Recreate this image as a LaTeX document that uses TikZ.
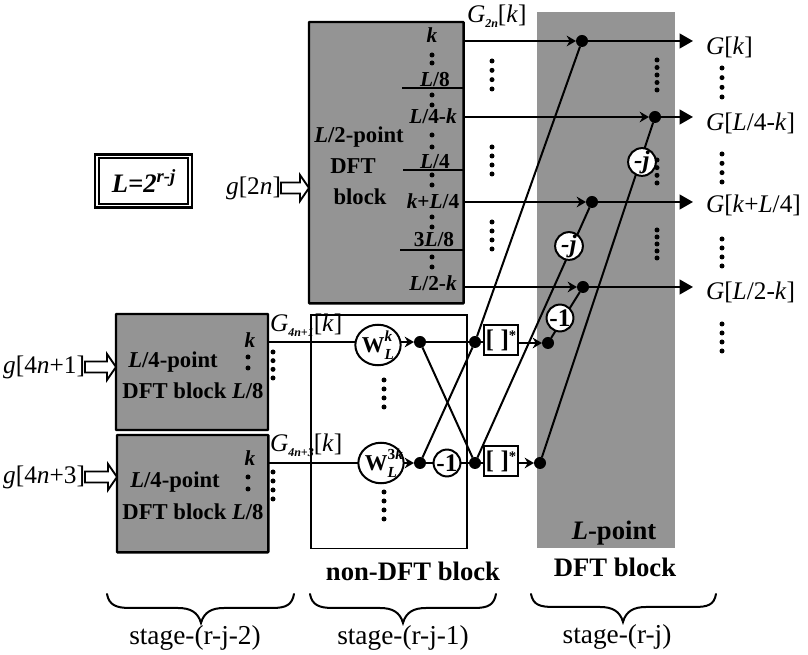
\documentclass[tikz,border=0pt]{standalone}
\usepackage{fontspec}
\setmainfont{Liberation Serif}
\usetikzlibrary{arrows.meta,shapes.geometric}
\newcommand\fs[1]{\fontsize{#1}{#1}\selectfont}
\newcommand\bi[1]{\textbf{\textit{#1}}}
\newcommand\gsub[1]{\raisebox{-3.5pt}{\fs{9}\bi{#1}}}
\newcommand\dotcol[4]{\foreach \i in {0,...,#4}{\fill[black] ({#1},{#2+(#3-#2)*\i/#4}) circle[radius=2.5];}}
\newcommand\hollow[3]{\draw[line width=1.4pt,fill=white,line join=miter] (#1,#3-5.5) -- (#2-9,#3-5.5) -- (#2-9,#3-13) -- (#2,#3) -- (#2-9,#3+13) -- (#2-9,#3+5.5) -- (#1,#3+5.5) -- cycle;}
\tikzset{
  x=0.75pt,y=-0.75pt,
  gblock/.style={draw=black,line width=1.8pt,fill=gray!84!white,rounded corners=0.5pt,inner sep=0pt,outer sep=0pt},
  wire/.style={line width=1.5pt,draw=black},
  wirein/.style={wire,-{Stealth[length=7pt,width=8pt]}},
  wireout/.style={wire,-{Triangle[length=10pt,width=11pt]}},
  joint/.style={circle,fill=black,minimum size=9pt,inner sep=0pt,outer sep=0pt},
  opcirc/.style={circle,draw=black,line width=1.5pt,fill=white,minimum size=19.5pt,inner sep=0pt,outer sep=0pt,font=\fs{19}\bfseries},
  twid/.style={ellipse,draw=black,line width=1.5pt,fill=white,minimum width=33pt,minimum height=29pt,inner sep=0pt,outer sep=0pt,font=\fs{17}\bfseries},
  conj/.style={rectangle,draw=black,line width=1.4pt,fill=white,minimum width=25pt,minimum height=23pt,inner sep=0pt,outer sep=0pt,font=\fs{19}\bfseries},
  lab/.style={inner sep=0pt,outer sep=0pt,font=\fs{19}},
  blk/.style={inner sep=0pt,outer sep=0pt,font=\fs{17}\bfseries},
  port/.style={inner sep=0pt,outer sep=0pt,font=\fs{16}\bfseries},
  head/.style={inner sep=0pt,outer sep=0pt,font=\fs{20}\bfseries},
  stagel/.style={inner sep=0pt,outer sep=0pt,font=\fs{20.5}},
  bracel/.style={line width=1.5pt,draw=black,line cap=round},
}
\begin{document}
\begin{tikzpicture}
\useasboundingbox (0,0) rectangle (808,655);
% shaded regions
\node[fill=gray!84!white,inner sep=0pt,outer sep=0pt,minimum width=103.5pt,minimum height=402pt,anchor=north west] (strip) at (537,12) {};
\node[gblock,minimum width=116pt,minimum height=211pt,anchor=north west] (big) at (309,22) {};
\node[gblock,minimum width=114pt,minimum height=87pt,anchor=north west] (s1) at (116,314) {};
\node[gblock,minimum width=113.5pt,minimum height=88pt,anchor=north west] (s2) at (117,435) {};
\node[draw=black,line width=1pt,minimum width=117pt,minimum height=175pt,inner sep=0pt,outer sep=0pt,anchor=north west] (nd) at (311,315) {};
% L box
\node[draw=black,line width=1.6pt,double,double distance=1.2pt,minimum width=70pt,minimum height=37pt,inner sep=0pt,outer sep=0pt,font=\fs{20}\bfseries\itshape] (lbox) at (143.5,181) {L=2\raisebox{7pt}{\fs{14}r-j}};
% input labels and arrows
\node[lab,anchor=east] (g2n) at (281,188) {\textit{g}[2\textit{n}]};
\node[lab,anchor=east] (g1) at (85,367) {\textit{g}[4\textit{n}+1]};
\node[lab,anchor=east] (g3) at (85,477) {\textit{g}[4\textit{n}+3]};
\hollow{281}{309}{188}
\hollow{85}{116}{367}
\hollow{85}{117}{477}
% block text
\node[blk] (t1) at (359,137) {\textit{L}/2-point};
\node[blk] (t2) at (353,166) {DFT};
\node[blk] (t3) at (360,197) {block};
\node[blk] (t4) at (173,362) {\textit{L}/4-point};
\node[blk] (t5) at (193,391) {DFT block \textit{L}/8};
\node[blk] (t6) at (175,482) {\textit{L}/4-point};
\node[blk] (t7) at (193,512) {DFT block \textit{L}/8};
\node[port] (pa) at (250,340) {\textit{k}};
\node[port] (pb) at (250,458) {\textit{k}};
\node[port] (b1) at (432,35) {\textit{k}};
\node[port] (b2) at (435,80) {\textit{L}/8};
\node[port] (b3) at (433,116) {\textit{L}/4-\textit{k}};
\node[port] (b4) at (435,162) {\textit{L}/4};
\node[port] (b5) at (433,201) {\textit{k}+\textit{L}/4};
\node[port] (b6) at (434,240) {3\textit{L}/8};
\node[port] (b7) at (433,283) {\textit{L}/2-\textit{k}};
% underlines in big block
\coordinate (u1a) at (402,88); \coordinate (u1b) at (big.east |- u1a);
\coordinate (u2a) at (403,170); \coordinate (u2b) at (big.east |- u2a);
\coordinate (u3a) at (400,250); \coordinate (u3b) at (big.east |- u3a);
\draw[wire] (u1a) -- (u1b);
\draw[wire] (u2a) -- (u2b);
\draw[wire] (u3a) -- (u3b);
% dotted columns
\dotcol{432}{55}{63}{1}\dotcol{432}{95}{105}{1}\dotcol{432}{135}{147}{1}
\dotcol{432}{175}{185}{1}\dotcol{432}{217}{227}{1}\dotcol{432}{257}{267}{1}
\dotcol{248}{357}{368}{1}\dotcol{248}{477}{489}{1}
\dotcol{273}{352}{378}{3}\dotcol{273}{472}{499}{3}
\dotcol{492}{61}{89}{3}\dotcol{492}{147}{174}{3}\dotcol{492}{222}{249}{3}
\dotcol{384}{380}{407}{3}\dotcol{384}{492}{519}{3}
\dotcol{657}{60}{90}{4}\dotcol{657}{160}{183}{3}\dotcol{657}{230}{258}{4}
\dotcol{722}{68}{97}{3}\dotcol{722}{154}{182}{3}\dotcol{722}{239}{266}{3}\dotcol{722}{324}{351}{3}
% joints and operators
\coordinate (oa) at (464,41); \coordinate (ob) at (464,117);
\coordinate (oc) at (464,202); \coordinate (od) at (464,287);
\coordinate (ia) at (268,342); \coordinate (ib) at (268,463);
\node[joint] (n1) at (582,41) {};
\node[joint] (n2) at (655,117) {};
\node[joint] (n3) at (592,202) {};
\node[joint] (n4) at (583,287) {};
\coordinate (e1) at (693,41); \coordinate (e2) at (693,117);
\coordinate (e3) at (693,202); \coordinate (e4) at (693,287);
\node[joint] (a1) at (420,342) {};
\node[joint] (a2) at (420,463) {};
\node[joint] (c1) at (475,342) {};
\node[joint] (c2) at (475,463) {};
\node[joint] (f1) at (548,343) {};
\node[joint] (f2) at (540,463) {};
% wires
\draw[wire] (c1) -- (n1);
\draw[wire] (c2) -- (n3);
\draw[wire] (f1) -- (n4);
\draw[wire] (f2) -- (n2);
\draw[wire] (a1) -- (c2);
\draw[wire] (a2) -- (c1);
\draw[wirein] (oa) -- (n1);
\draw[wirein] (ob) -- (n2);
\draw[wirein] (oc) -- (n3);
\draw[wirein] (od) -- (n4);
\draw[wireout] (n1) -- (e1);
\draw[wireout] (n2) -- (e2);
\draw[wireout] (n3) -- (e3);
\draw[wireout] (n4) -- (e4);
\node[twid] (w1) at (378,345) {W\rlap{\raisebox{8.5pt}{\fs{11.5}\textit{k}}}\raisebox{-5pt}{\fs{11.5}\textit{L}}};
\node[twid] (w2) at (381,463) {W\rlap{\raisebox{8.5pt}{\fs{11.5}3\textit{k}}}\raisebox{-5pt}{\fs{11.5}\textit{L}}\hspace{3pt}};
\node[opcirc] (m1) at (447,463) {-1};
\node[conj] (k1) at (501,340) {[ ]\raisebox{5pt}{\fs{11}*}};
\node[conj] (k2) at (501,461) {[ ]\raisebox{5pt}{\fs{11}*}};
\node[opcirc] (j1) at (642,162) {\textit{-j}};
\node[opcirc] (j2) at (569,246) {\textit{-j}};
\node[opcirc] (m2) at (560,318) {-1};
\draw[wire] (ia) -- (w1.west |- ia);
\draw[wire] (ib) -- (w2);
\draw[wirein] (w1.east |- a1) -- (a1);
\draw[wirein] (w2) -- (a2);
\draw[wire] (a1) -- (c1);
\draw[wire] (a2) -- (m1);
\draw[wire] (m1) -- (c2);
\draw[wire] (c1) -- (k1.west |- c1);
\draw[wire] (c2) -- (k2.west |- c2);
\draw[wirein] (k1.east |- f1) -- (f1);
\draw[wirein] (k2.east |- f2) -- (f2);
% signal labels
\node[lab,anchor=west] (l1) at (467,16) {\textit{G}\gsub{2n}[\textit{k}]};
\node[lab,anchor=west] (l2) at (270,325) {\textit{G}\gsub{4n+1}[\textit{k}]};
\node[lab,anchor=west] (l3) at (270,445) {\textit{G}\gsub{4n+3}[\textit{k}]};
\node[lab,anchor=west] (r1) at (706,47) {\textit{G}[\textit{k}]};
\node[lab,anchor=west] (r2) at (706,123) {\textit{G}[\textit{L}/4-\textit{k}]};
\node[lab,anchor=west] (r3) at (706,205) {\textit{G}[\textit{k}+\textit{L}/4]};
\node[lab,anchor=west] (r4) at (706,292) {\textit{G}[\textit{L}/2-\textit{k}]};
% captions
\node[head] (h1) at (413,571) {non-DFT block};
\node[head] (h2) at (614,533) {\textit{L}-point};
\node[head] (h3) at (615,567) {DFT block};
\node[stagel] (s21) at (195,638) {stage-(r-j-2)};
\node[stagel] (s22) at (403,638) {stage-(r-j-1)};
\node[stagel] (s23) at (617,637) {stage-(r-j)};
% braces
\draw[bracel] (107,594) .. controls (109,605) and (116,608) .. (130,608) -- (178,608) .. controls (190,608) and (198,612) .. (201,623) .. controls (204,612) and (212,608) .. (224,608) -- (272,608) .. controls (286,608) and (292,605) .. (294,594);
\draw[bracel] (310,594) .. controls (312,605) and (319,608) .. (333,608) -- (380,608) .. controls (392,608) and (400,612) .. (403,623) .. controls (406,612) and (414,608) .. (426,608) -- (474,608) .. controls (488,608) and (494,605) .. (496,594);
\draw[bracel] (531,594) .. controls (533,605) and (540,607) .. (554,607) -- (600,607) .. controls (612,607) and (620,611) .. (623,622) .. controls (626,611) and (634,607) .. (646,607) -- (694,607) .. controls (708,607) and (714,605) .. (716,594);
\end{tikzpicture}
\end{document}
